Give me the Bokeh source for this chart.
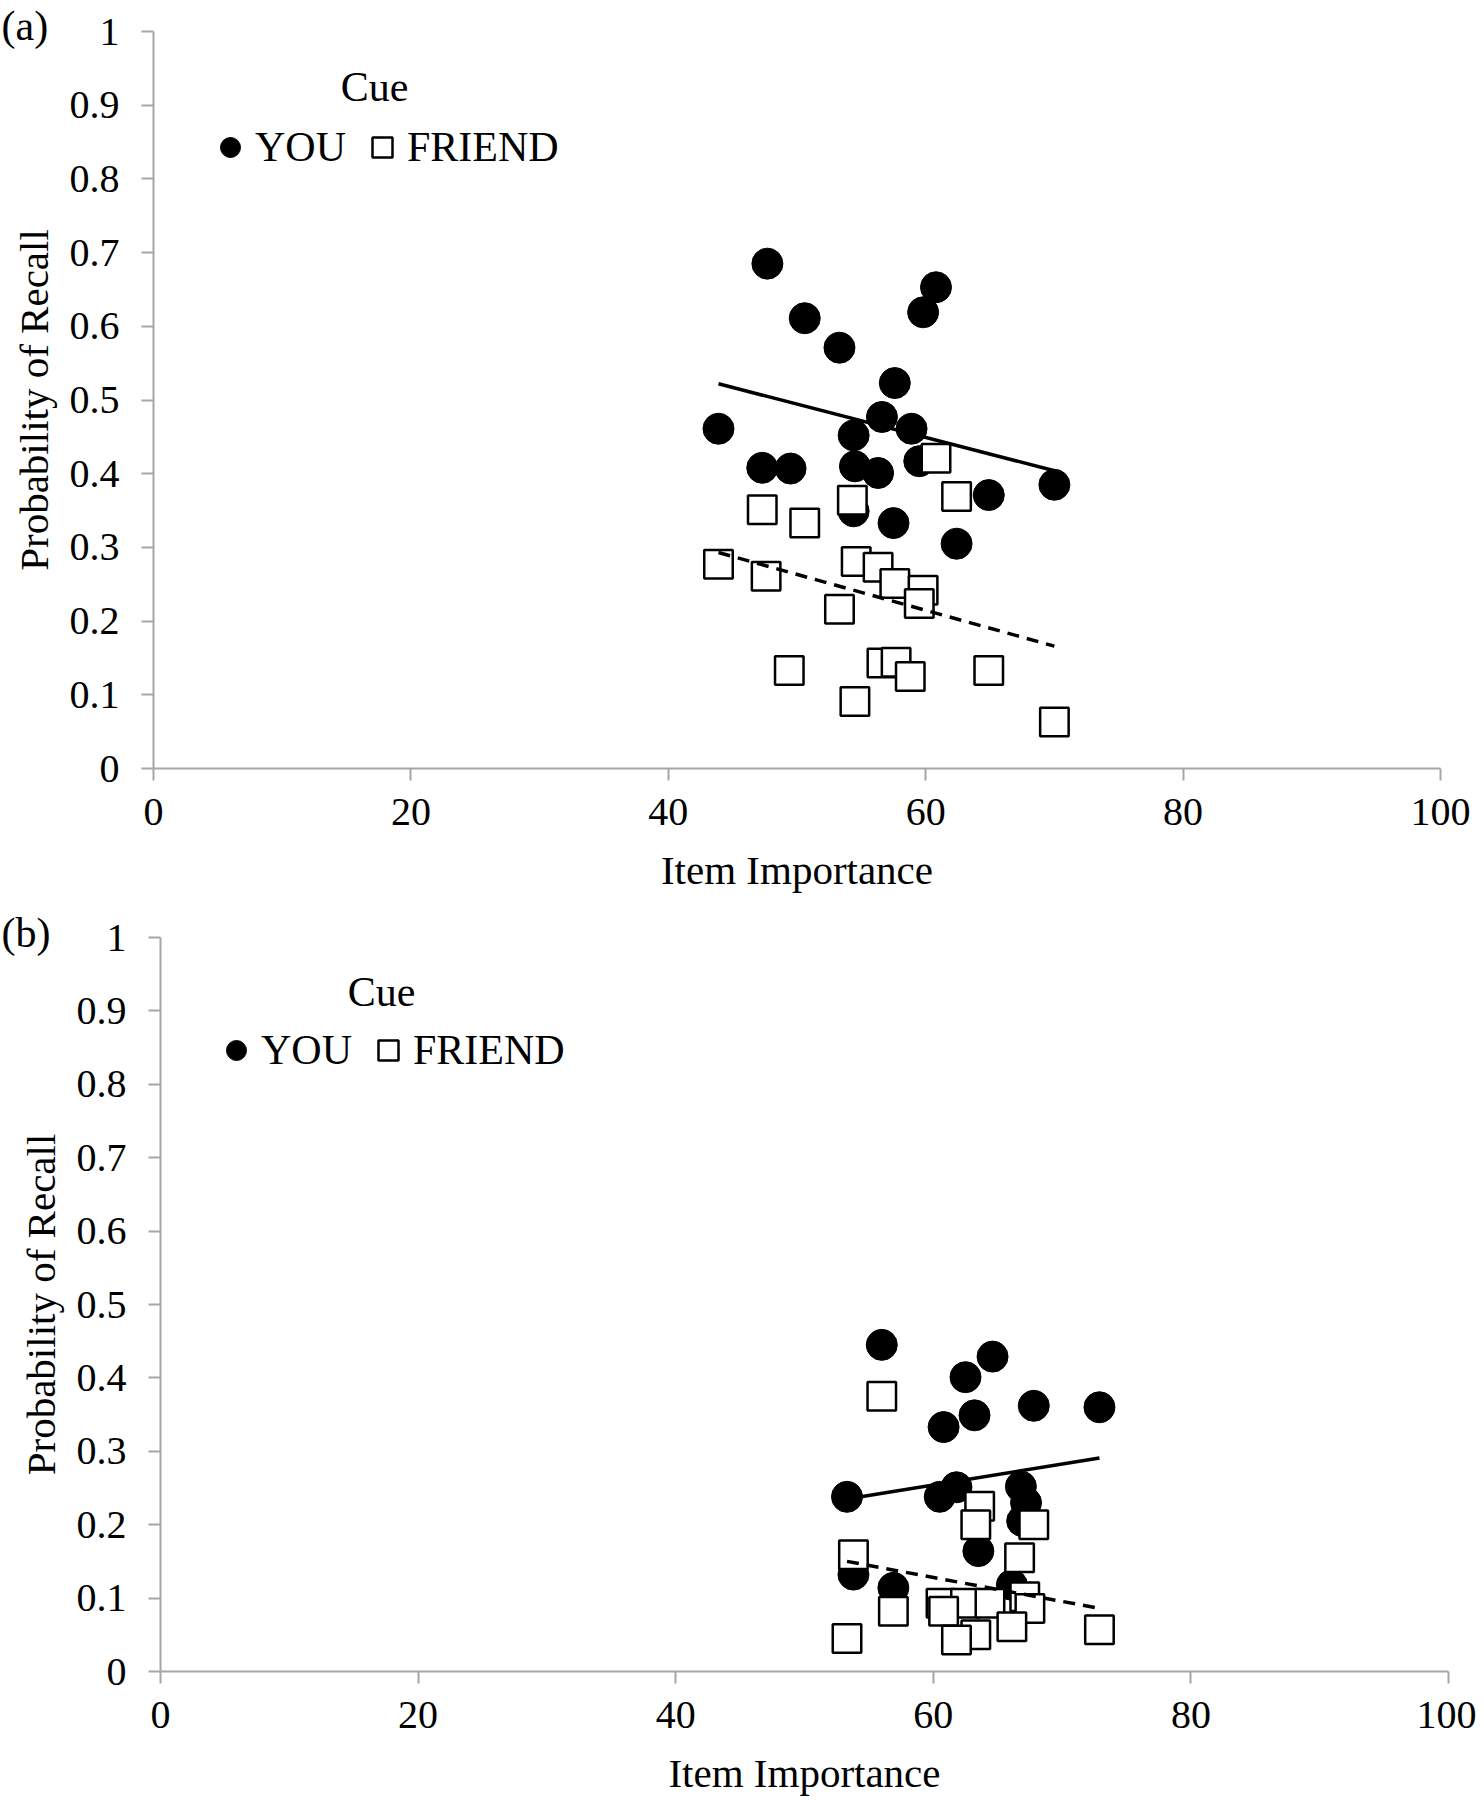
from bokeh.plotting import figure
from bokeh.layouts import column
from bokeh.models import Range1d, FixedTicker, CustomJSTickFormatter, Legend, LegendItem, Label
from bokeh.embed import file_html
from bokeh.resources import INLINE

FONT = "Liberation Serif"

x_ticks = [0, 20, 40, 60, 80, 100]
y_ticks = [0.0, 0.1, 0.2, 0.3, 0.4, 0.5, 0.6, 0.7, 0.8, 0.9, 1.0]

# panel (a)
a_you_x = [47.7, 60.8, 59.8, 50.6, 53.3, 57.6, 43.9, 56.6, 58.9, 54.4,
           47.3, 49.5, 54.5, 56.3, 59.5, 70.0, 64.9, 54.4, 57.5, 62.4]
a_you_y = [0.685, 0.653, 0.619, 0.611, 0.571, 0.523, 0.461, 0.477, 0.461, 0.452,
           0.408, 0.407, 0.410, 0.401, 0.417, 0.385, 0.371, 0.349, 0.333, 0.305]
a_friend_x = [60.8, 47.3, 54.3, 62.4, 50.6, 43.9, 47.6, 54.6, 56.3, 57.6,
              59.8, 59.5, 53.3, 49.4, 56.6, 57.7, 58.8, 64.9, 54.5, 70.0]
a_friend_y = [0.421, 0.351, 0.364, 0.369, 0.333, 0.277, 0.261, 0.281, 0.273, 0.251,
              0.242, 0.224, 0.216, 0.133, 0.143, 0.144, 0.125, 0.133, 0.091, 0.063]
a_you_trend_x = [43.9, 70.0]
a_you_trend_y = [0.522, 0.404]
a_friend_trend_x = [43.9, 70.0]
a_friend_trend_y = [0.293, 0.166]

# panel (b)
b_you_x = [56.0, 64.6, 62.5, 67.8, 72.9, 63.2, 60.8, 53.3, 60.5, 61.8,
           66.8, 67.2, 66.9, 63.5, 53.8, 56.9, 66.1]
b_you_y = [0.445, 0.429, 0.401, 0.362, 0.360, 0.349, 0.333, 0.238, 0.238, 0.251,
           0.252, 0.230, 0.205, 0.164, 0.132, 0.114, 0.118]
b_friend_x = [56.0, 63.6, 63.3, 67.8, 66.7, 53.8, 56.9, 60.6, 62.5, 64.4,
              67.1, 67.5, 60.8, 63.3, 61.8, 66.1, 53.3, 72.9]
b_friend_y = [0.375, 0.225, 0.200, 0.200, 0.155, 0.159, 0.082, 0.093, 0.093, 0.093,
              0.102, 0.086, 0.082, 0.050, 0.043, 0.061, 0.045, 0.057]
b_you_trend_x = [53.3, 72.9]
b_you_trend_y = [0.235, 0.291]
b_friend_trend_x = [53.3, 72.9]
b_friend_trend_y = [0.150, 0.086]

PAGE_LEFT = 0
CANVAS_W = 1476
GLYPH_W = 50


def make_panel(tag, you_x, you_y, fr_x, fr_y, tyx, tyy, tfx, tfy,
               top, height, x0, x100, y1, y0, tag_base, leg_c, cue_c):
    # the frame fills the whole canvas; axes sit at x=0 / y=0 inside it
    pxx = (x100 - x0) / 100.0
    pxy = (y0 - y1) / 1.0
    bottom = top + height
    x_start = -(x0 - PAGE_LEFT) / pxx
    x_end = 100 + (PAGE_LEFT + CANVAS_W - x100) / pxx
    y_start = -(bottom - y0) / pxy
    y_end = 1 + (y1 - top) / pxy

    p = figure(frame_width=CANVAS_W, frame_height=height,
               min_border_left=0, min_border_right=0,
               min_border_top=0, min_border_bottom=0,
               x_range=Range1d(x_start, x_end), y_range=Range1d(y_start, y_end),
               x_axis_label="Item Importance", y_axis_label="Probability of Recall",
               output_backend="svg", toolbar_location=None)
    p.outline_line_color = None
    p.grid.visible = False

    p.xaxis.ticker = FixedTicker(ticks=x_ticks)
    p.yaxis.ticker = FixedTicker(ticks=y_ticks)
    p.yaxis.formatter = CustomJSTickFormatter(
        code="return tick.toFixed(1).replace(/\\.0$/, '');")
    p.xaxis.bounds = (0, 100)
    p.yaxis.bounds = (0, 1)
    p.xaxis.fixed_location = 0
    p.yaxis.fixed_location = 0
    for ax in (p.xaxis, p.yaxis):
        ax.axis_line_color = "#a6a6a6"
        ax.axis_line_width = 2
        ax.major_tick_line_color = "#a6a6a6"
        ax.major_tick_line_width = 2
        ax.major_tick_out = 12
        ax.major_tick_in = 0
        ax.minor_tick_line_color = None
        ax.major_label_text_font = FONT
        ax.major_label_text_font_size = "40px"
        ax.major_label_text_color = "black"
        ax.axis_label_text_font = FONT
        ax.axis_label_text_font_size = "41px"
        ax.axis_label_text_font_style = "normal"
        ax.axis_label_text_color = "black"
    p.xaxis.major_label_standoff = 18
    p.xaxis.axis_label_standoff = 19
    p.yaxis.major_label_standoff = 22
    p.yaxis.axis_label_standoff = 10

    r_you = p.scatter(you_x, you_y, marker="circle", size=31,
                      fill_color="black", line_color="black")
    r_fr = p.scatter(fr_x, fr_y, marker="square", size=28.5,
                     fill_color="white", line_color="black", line_width=2.5)
    p.line(tyx, tyy, line_color="black", line_width=3.5)
    p.line(tfx, tfy, line_color="black", line_width=3.5, line_dash="12 8")

    legend = Legend(items=[LegendItem(label="YOU", renderers=[r_you]),
                           LegendItem(label="FRIEND", renderers=[r_fr])],
                    orientation="horizontal",
                    location=(leg_c[0] - GLYPH_W / 2 - PAGE_LEFT, bottom - (leg_c[1] + 40)),
                    glyph_width=GLYPH_W, glyph_height=80, label_standoff=0,
                    spacing=11, padding=0, margin=0,
                    label_text_font=FONT, label_text_font_size="42px",
                    label_text_color="black",
                    border_line_alpha=0, background_fill_alpha=0)
    p.add_layout(legend)

    p.add_layout(Label(x=cue_c[0] - PAGE_LEFT, y=bottom - cue_c[1],
                       x_units="screen", y_units="screen",
                       text="Cue", text_align="center", text_baseline="middle",
                       text_color="black", text_font=FONT, text_font_size="42px"))
    p.add_layout(Label(x=1 - PAGE_LEFT, y=bottom - tag_base,
                       x_units="screen", y_units="screen",
                       text=tag, text_align="left", text_baseline="alphabetic",
                       text_color="black", text_font=FONT, text_font_size="42px"))
    return p


pa = make_panel("(a)", a_you_x, a_you_y, a_friend_x, a_friend_y,
                a_you_trend_x, a_you_trend_y, a_friend_trend_x, a_friend_trend_y,
                top=0, height=900, x0=153, x100=1440, y1=31, y0=768,
                tag_base=25, leg_c=(230, 147), cue_c=(374, 86))
pb = make_panel("(b)", b_you_x, b_you_y, b_friend_x, b_friend_y,
                b_you_trend_x, b_you_trend_y, b_friend_trend_x, b_friend_trend_y,
                top=900, height=896, x0=160, x100=1448, y1=937, y0=1671,
                tag_base=932, leg_c=(236, 1050), cue_c=(381, 991))

layout = column(pa, pb)
open("out.html", "w").write(file_html(layout, INLINE))
